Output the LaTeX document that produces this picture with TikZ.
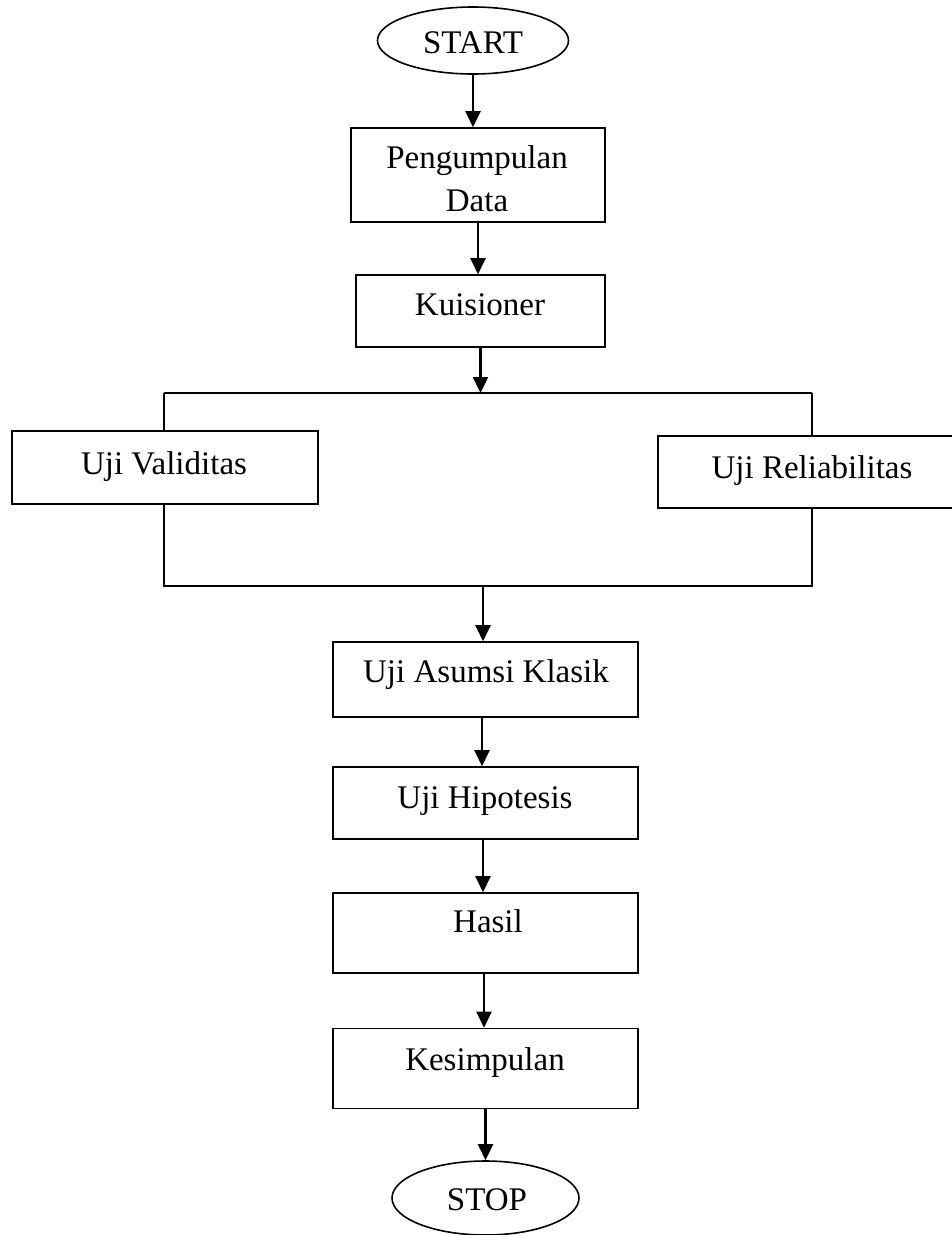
\documentclass[tikz,border=0pt]{standalone}
\usepackage{fontspec}
\setmainfont{Liberation Serif}
\usetikzlibrary{shapes.geometric,arrows.meta}
\begin{document}
\begin{tikzpicture}[x=1pt,y=-1pt,
  box/.style={draw, line width=1.6pt, inner sep=0pt},
  oval/.style={draw, ellipse, line width=1.6pt, inner sep=0pt},
  txt/.style={font=\fontsize{33}{43}\selectfont, align=center, inner sep=0pt, anchor=base},
  arr/.style={line width=2.3pt, -{Triangle[length=16pt,width=15pt]}},
  ln/.style={line width=1.6pt}]
\useasboundingbox (0,0) rectangle (952,1235);
% shapes
\node[oval, minimum width=191pt, minimum height=67pt] (start) at (473,40.5) {};
\node[box, minimum width=254pt, minimum height=94pt] (pd) at (478,175) {};
\node[box, minimum width=249pt, minimum height=72pt] (ku) at (480.5,311) {};
\node[box, minimum width=306pt, minimum height=73pt] (uv) at (165,467.5) {};
\node[box, minimum width=297pt, minimum height=72pt] (ur) at (806.5,472) {};
\node[box, minimum width=305pt, minimum height=75pt] (ua) at (485.5,679.5) {};
\node[box, minimum width=305pt, minimum height=72pt] (uh) at (485.5,803) {};
\node[box, minimum width=305pt, minimum height=80pt] (ha) at (485.5,933) {};
\node[box, minimum width=305pt, minimum height=80pt] (ke) at (485.5,1068.5) {};
\node[oval, minimum width=187pt, minimum height=74pt] (stop) at (485.5,1198) {};
% texts
\node[txt] (tstart) at (473,53) {START};
\node[txt, anchor=base] (tpd) at (477,168) {Pengumpulan};
\node[txt, anchor=base] (tpd2) at (477,211) {Data};
\node[txt] (tku) at (480,315) {Kuisioner};
\node[txt] (tuv) at (164,474) {Uji Validitas};
\node[txt] (tur) at (812,478) {Uji Reliabilitas};
\node[txt] (tua) at (486,682) {Uji Asumsi Klasik};
\node[txt] (tuh) at (485,808) {Uji Hipotesis};
\node[txt] (tha) at (488,932) {Hasil};
\node[txt] (tke) at (485,1070) {Kesimpulan};
\node[txt] (tstop) at (487,1210) {STOP};
% branch coordinates
\coordinate (tl) at (164,393);
\coordinate (tr) at (812,393);
\coordinate (bl) at (164,586);
\coordinate (br) at (812,586);
% connectors
\draw[arr] (start.south) -- (start.south |- pd.north);
\draw[arr] (pd.south) -- (pd.south |- ku.north);
\draw[arr] (ku.south) -- (ku.south |- tl);
\draw[ln] (tl) -- (tr);
\draw[ln] (tl) -- (tl |- uv.north);
\draw[ln] (tr) -- (tr |- ur.north);
\draw[ln] (uv.south -| bl) -- (bl) -- (br) -- (ur.south -| br);
\draw[arr] (bl -| 483,0) -- (ua.north -| 483,0);
\draw[arr] (ua.south -| 482,0) -- (uh.north -| 482,0);
\draw[arr] (uh.south -| 483,0) -- (ha.north -| 483,0);
\draw[arr] (ha.south -| 484,0) -- (ke.north -| 484,0);
\draw[arr] (ke.south -| stop.north) -- (stop.north);
\end{tikzpicture}
\end{document}
